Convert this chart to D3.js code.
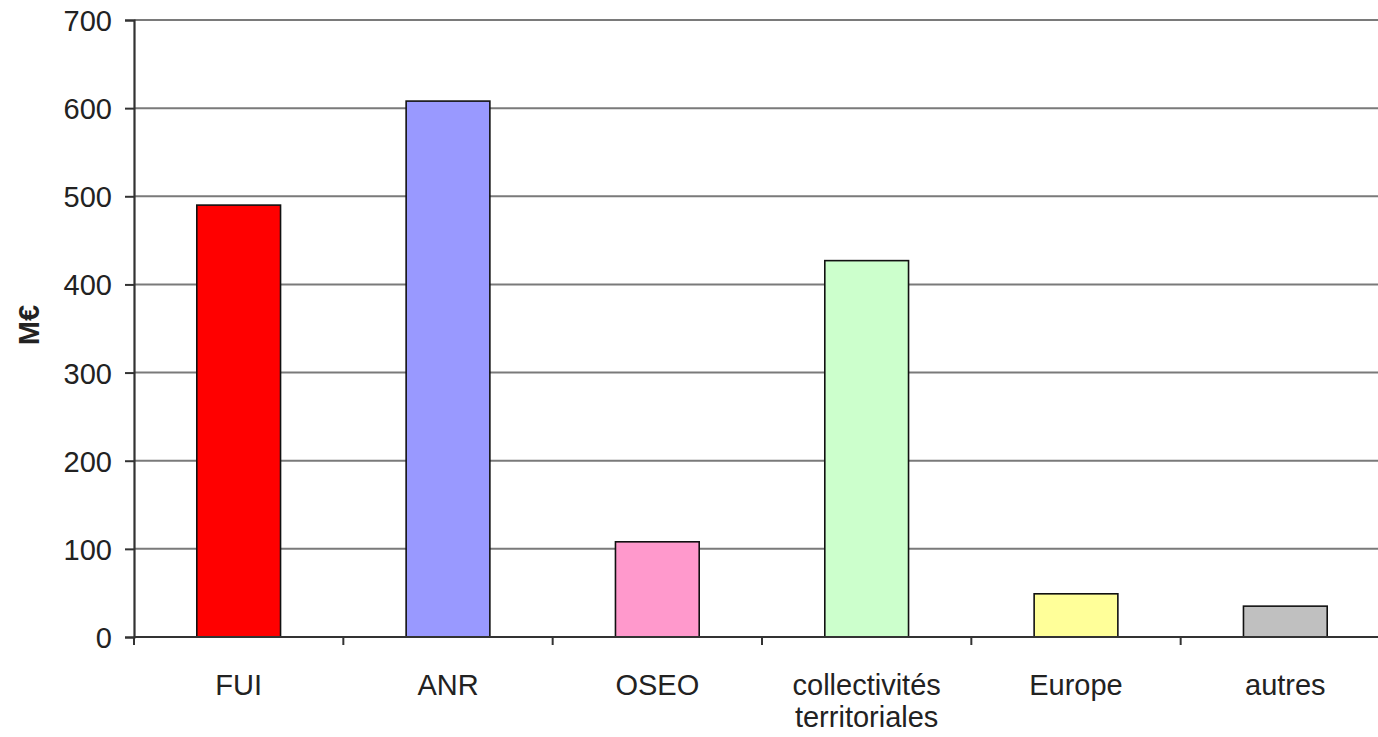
<!DOCTYPE html>
<html><head><meta charset="utf-8">
<script src="https://cdn.jsdelivr.net/npm/d3@7"></script>
<style>body{margin:0;background:#fff;} text{font-family:"Liberation Sans",Arial,sans-serif;}</style>
</head><body>
<svg id="c" width="1378" height="737"></svg>
<script>
const categories = [["FUI"],["ANR"],["OSEO"],["collectivités","territoriales"],["Europe"],["autres"]];
const values = [490, 608, 108, 427, 49, 35];
const colors = ["#FF0000","#9999FF","#FF99CC","#CCFFCC","#FFFF99","#C0C0C0"];
const yTicks = [0,100,200,300,400,500,600,700];
const yLabel = "M€";

const svg = d3.select("#c");
const m = {left:134, top:20, right:-12, bottom:100};
const W = 1378 - m.left - m.right, H = 737 - m.top - m.bottom;
const g = svg.append("g").attr("transform",`translate(${m.left},${m.top})`);
const keys = categories.map(c=>c.join(" "));
const x = d3.scaleBand().domain(keys).range([0,W]).paddingInner(0.6).paddingOuter(0.3);
const y = d3.scaleLinear().domain([0,700]).range([H,0]);

// gridlines
g.append("g").selectAll("line").data(yTicks.filter(d=>d>0)).join("line")
  .attr("x1",0).attr("x2",W).attr("y1",d=>y(d)).attr("y2",d=>y(d))
  .attr("stroke","#7a7a7a").attr("stroke-width",2);

// bars
g.append("g").selectAll("rect").data(values).join("rect")
  .attr("x",(d,i)=>x(keys[i])).attr("width",x.bandwidth())
  .attr("y",d=>y(d)).attr("height",d=>H-y(d))
  .attr("fill",(d,i)=>colors[i]).attr("stroke","#111").attr("stroke-width",1.6);

// y axis
const ya = g.append("g").call(d3.axisLeft(y).tickValues(yTicks).tickSize(9).tickPadding(13));
ya.select(".domain").attr("stroke","#333").attr("stroke-width",2.2);
ya.selectAll(".tick line").attr("stroke","#333").attr("stroke-width",2);
ya.selectAll(".tick text").attr("font-size",29).attr("fill","#222")
  .attr("font-family","Liberation Sans, Arial, sans-serif").attr("dy","0.36em");

// x axis
const xa = g.append("g").attr("transform",`translate(0,${H})`);
xa.append("line").attr("x1",0).attr("x2",W).attr("stroke","#333").attr("stroke-width",2.2);
const bounds = keys.map(k=>x(k) - x.paddingInner()*x.step()/2).concat([W]);
g.append("g").selectAll("line").data(bounds).join("line")
  .attr("x1",d=>d).attr("x2",d=>d)
  .attr("y1",H).attr("y2",H+8).attr("stroke","#333").attr("stroke-width",2);
const lbl = g.append("g").selectAll("text").data(categories).join("text")
  .attr("x",(d,i)=>x(keys[i])+x.bandwidth()/2).attr("y",H+58)
  .attr("text-anchor","middle").attr("font-size",29).attr("fill","#222");
lbl.each(function(d){
  const t=d3.select(this);
  d.forEach((s,j)=>t.append("tspan").attr("x",t.attr("x")).attr("dy",j===0?0:32).text(s));
});

// y label
svg.append("text").attr("transform","translate(39,325) rotate(-90)")
  .attr("text-anchor","middle").attr("font-size",29).attr("font-weight","bold").attr("fill","#222").text(yLabel);
</script>
</body></html>
